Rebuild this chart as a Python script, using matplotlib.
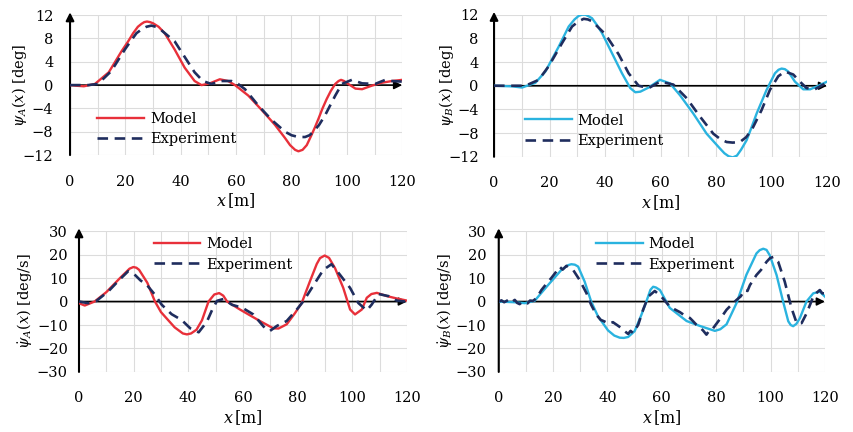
import matplotlib
matplotlib.use('Agg')
import matplotlib.pyplot as plt
from matplotlib.ticker import MultipleLocator

plt.rcParams['font.family'] = 'DejaVu Serif'
plt.rcParams['mathtext.fontset'] = 'dejavuserif'
plt.rcParams['font.size'] = 10.5

# --- psi_A (top left)
xa_mod = [0, 2, 5, 9, 14, 18.6, 21, 22.8, 24.5, 25.8, 26.8, 27.8, 28.9, 30, 32, 34.2, 37.8, 41.4,
          45, 47.5, 50.5, 54.1, 57.1, 59.6, 64.4, 69.3, 74, 77.7, 79.5, 81.3, 82.5, 84, 85.5, 87,
          88.5, 89.8, 91.2, 92.7, 94.2, 95.8, 97, 97.9, 99, 100.5, 103.1, 105.5, 109, 112.6, 116.3, 120]
ya_mod = [0, -0.1, -0.2, 0.2, 2.2, 5.8, 7.5, 8.9, 10.0, 10.5, 10.8, 10.9, 10.8, 10.6, 10.0, 8.9, 6.1,
          3.0, 0.7, 0, 0.3, 1.0, 0.7, 0, -1.8, -4.3, -6.8, -9.1, -10.3, -11.1, -11.35, -11.1, -10.3,
          -8.8, -7.2, -5.7, -4.0, -2.4, -1.0, 0.2, 0.7, 0.9, 0.7, 0.2, -0.6, -0.7, -0.1, 0.4, 0.7, 0.9]
xa_exp = [0, 6.5, 10.1, 14.9, 19.8, 22, 24, 26, 27.6, 29.4, 31, 33, 37.8, 42, 45, 48, 51, 54.7,
          58.3, 60.7, 63.2, 68, 72.9, 77.7, 80, 82.5, 84.9, 86.5, 87.9, 90, 92.1, 95.8, 98.2, 101.8,
          105.5, 110.2, 113.9, 116.3, 120]
ya_exp = [0, 0, 0.2, 2.4, 6.1, 7.6, 8.9, 9.6, 10.0, 10.2, 10.0, 9.4, 7.5, 4.4, 2.2, 0.7, 0.2, 0.7,
          0.7, 0.2, -0.7, -3.5, -6.0, -8.0, -8.6, -8.9, -8.9, -8.6, -8.0, -6.8, -5.2, -1.8, 0.2, 0.9,
          0.3, 0.2, 0.9, 0.7, 0.6]

# --- psi_B (top right)
xb_mod = [0, 6.5, 10.1, 14.9, 18.5, 23.3, 26.9, 29, 30.5, 31.7, 32.9, 34.2, 35.3, 37, 38.9, 42.5,
          46.1, 49.1, 50.9, 52.7, 55.7, 59.8, 63.4, 67, 71.8, 76.6, 81.4, 83, 84.5, 86, 87.5, 89,
          91, 92.8, 94.6, 98.2, 101.2, 102.5, 103.6, 104.8, 106, 108.4, 111.4, 113.9, 116.9, 120]
yb_mod = [0, -0.1, -0.3, 0.5, 2.4, 6.6, 10.0, 11.2, 11.8, 12.0, 12.0, 11.7, 11.4, 10.3, 8.9, 5.5,
          2.1, -0.4, -1.1, -1.0, -0.3, 1.0, 0.4, -1.6, -4.7, -8.1, -10.6, -11.4, -11.9, -12.1, -11.8,
          -10.8, -9.2, -7.0, -4.7, -0.7, 2.1, 2.7, 2.9, 2.8, 2.4, 0.7, -0.6, -0.6, 0, 0.7]
xb_exp = [0, 11.3, 16.1, 19.7, 24.5, 28.1, 30.5, 32.3, 33.8, 35.3, 40.1, 44.9, 48.5, 52.1, 55.7,
          59.8, 64.6, 69.4, 74.2, 79, 81.5, 83.8, 86, 88.6, 90.8, 92.8, 96.4, 99.4, 102.4, 104.8,
          107.8, 110.2, 112.6, 115.6, 118.6, 120]
yb_exp = [0, 0, 1.0, 3.3, 7.2, 10.0, 10.9, 11.3, 11.2, 10.9, 8.7, 5.3, 2.1, 0, -0.4,
          0.7, 0.2, -2.1, -5.2, -8.1, -9.0, -9.5, -9.6, -9.5, -8.7, -7.5, -4.1, -0.7, 1.6, 2.4,
          1.9, 0.7, -0.4, -0.6, 0.2, 0.6]

# --- psi_A dot (bottom left)
xad_mod = [0, 2.1, 5.7, 10, 15, 18.5, 19.9, 21, 22, 25, 27.8, 30, 35, 38, 39.5, 41, 43, 45, 47.4,
           49.5, 51.3, 52.8, 54.2, 58.9, 62, 66.2, 71.1, 73, 76, 79, 81.5, 84.5, 87, 88.2, 89.9,
           91.5, 93.7, 96.7, 99.2, 101, 103.5, 105.3, 107, 109, 112.7, 116.3, 120]
yad_mod = [-0.7, -1.7, 0, 4, 10, 14, 14.7, 14.4, 13.5, 8, 0, -4.5, -11, -13.6, -14, -13.6, -12, -8, 0,
           3, 3.6, 2.5, 0, -3.4, -5.5, -8.3, -11.4, -11.5, -9.7, -5, -0.6, 8.6, 16, 18.5, 19.6,
           18.6, 14.2, 5.8, -3.4, -5.5, -3.4, 1.6, 3.2, 3.7, 2.3, 1.3, 0.4]
xad_exp = [0, 3.3, 6.4, 10.7, 15, 18, 19.9, 22.5, 24.8, 27.8, 30.3, 33.9, 37.6, 40.7, 43.8, 46.8,
           48.7, 50.5, 52.9, 56, 59.7, 63.8, 68.1, 69.9, 72.4, 76, 79.7, 82.1, 85.2, 89.4, 92.4,
           95.5, 99.2, 102.2, 105.3, 107.1, 109.6, 113.3, 116.3, 120]
yad_exp = [0, -0.7, 0.3, 4.3, 9.5, 12.9, 12, 9, 7.1, 2.9, -1.4, -5.4, -7.9, -11.4, -13.1, -8.6,
           -3.6, 0.3, 1.1, -1.4, -2.6, -5.5, -11.4, -12.5, -10.4, -8.3, -3.4, 0.1, 5.8, 13.5, 15.9,
           11.4, 5.8, -0.6, -3.8, -1.3, 3.2, 2.3, 0.4, -0.1]

# --- psi_B dot (bottom right)
xbd_mod = [0, 5.9, 9.6, 13.2, 18.2, 23, 25.5, 26.7, 28, 29.2, 31.6, 34, 36.5, 40.2, 42.5, 44.5,
           46, 47.6, 50, 52.5, 54.3, 55.8, 56.8, 57.8, 59.3, 62.9, 69.1, 74, 79.5, 81.5, 83.8, 87.5,
           91.1, 94.8, 96, 97.3, 98.5, 99.7, 102.2, 104.6, 106.5, 107.4, 108.3, 109.5, 110.8,
           113.2, 115.7, 118.1, 120]
ybd_mod = [0, -0.3, -0.7, 0.3, 7.1, 13.4, 15.5, 15.9, 15.7, 14.9, 8.5, 0, -6.3, -12.3, -14.5, -15.4,
           -15.5, -15.1, -12.6, -5.6, 0, 5, 6.3, 6.0, 4.9, -2.7, -8.3, -10.4, -12.5, -11.8, -9.7, -0.6,
           11.4, 20.5, 21.9, 22.5, 22.0, 19.7, 11.3, 0, -8.4, -10, -10.5, -9.5, -7, 0, 3.5, 4.2, 2.1]
xbd_exp = [0, 1, 2, 3.4, 4.5, 5.9, 6.8, 7.7, 8.6, 9.6, 10.6, 11.5, 12.6, 13.9, 15.7, 17.5, 19.4,
           21, 22.4, 23.5, 24.9, 26, 27.4, 29.8, 32.3, 34, 35.9, 37.5, 38.9, 40.5, 42, 43.5, 45.1,
           46.5, 47.6, 48.5, 49.4, 51.3, 53.1, 55, 57.4, 59.8, 62.9, 64.5, 66.6, 68.5, 70.3, 71.5,
           72.7, 74, 75.2, 76.4, 77.3, 78.2, 80.7, 82, 83.8, 85.5, 87.5, 89, 90.5, 91.5, 92.4, 94.8,
           96.5, 98.5, 99.8, 101, 102.8, 105.2, 107.7, 109.6, 111.4, 113.3, 115.7, 117, 118.1, 119,
           120]
ybd_exp = [0, 0.5, -0.3, 0.6, -0.5, 0.7, -0.6, -1.1, -0.2, -0.3, -0.8, 0.4, 0.3, 1.4, 4.9, 7.5, 10.1,
           12.5, 14.8, 13.6, 15.2, 14.2, 13.4, 9.1, 3.5, -1.4, -5.6, -7.8, -8.5, -9.5, -8.8, -10, -11.3,
           -12.8, -13.8, -12.5, -13.4, -9.9, -3.5, 2.1, 4.5, 2.1, -2.1, -3.2, -4.5, -6, -7, -8.4,
           -9.9, -11, -12.4, -14.1, -12.6, -12.4, -8.5, -6.5, -3.5, -1.5, 0.7, 2.2, 4.9, 4.5, 7, 11.3,
           13.5, 16.9, 18.5, 19, 16.9, 8.5, -2.8, -9.2, -9.2, -4.9, 2.1, 3.8, 4.9, 3.5, 3.5]

red = '#e8303a'
cyan = '#2ab3df'
navy = '#1f2d5e'

panels = [
    dict(rect=[0.082, 0.641, 0.389, 0.324], x_m=xa_mod, y_m=ya_mod, x_e=xa_exp, y_e=ya_exp,
         col=red, ylim=(-12, 12), ystep=4, ylabel=r'$\psi_A(x)$ [deg]',
         leg=dict(loc='lower left', bbox_to_anchor=(0.065, 0.02)), ypad=12, ylx=-0.125),
    dict(rect=[0.5785, 0.637, 0.390, 0.329], x_m=xb_mod, y_m=yb_mod, x_e=xb_exp, y_e=yb_exp,
         col=cyan, ylim=(-12, 12), ystep=4, ylabel=r'$\psi_B(x)$ [deg]',
         leg=dict(loc='lower left', bbox_to_anchor=(0.075, 0.02)), ypad=11, ylx=-0.115),
    dict(rect=[0.0925, 0.139, 0.384, 0.326], x_m=xad_mod, y_m=yad_mod, x_e=xad_exp, y_e=yad_exp,
         col=red, ylim=(-30, 30), ystep=10, ylabel=r'$\dot{\psi}_A(x)$ [deg/s]',
         leg=dict(loc='upper left', bbox_to_anchor=(0.21, 1.0)), ypad=8, ylx=-0.137),
    dict(rect=[0.584, 0.139, 0.382, 0.326], x_m=xbd_mod, y_m=ybd_mod, x_e=xbd_exp, y_e=ybd_exp,
         col=cyan, ylim=(-30, 30), ystep=10, ylabel=r'$\dot{\psi}_B(x)$ [deg/s]',
         leg=dict(loc='upper left', bbox_to_anchor=(0.28, 1.0)), ypad=9, ylx=-0.138),
]

fig = plt.figure(figsize=(8.54, 4.32), dpi=100)

for p in panels:
    ax = fig.add_axes(p['rect'])
    ax.plot(p['x_m'], p['y_m'], color=p['col'], lw=1.7, label='Model', zorder=3,
            solid_joinstyle='round')
    ax.plot(p['x_e'], p['y_e'], color=navy, lw=1.9, ls=(0, (4, 2.5)), label='Experiment', zorder=4)
    ax.set_xlim(0, 120)
    ax.set_ylim(*p['ylim'])
    ax.xaxis.set_major_locator(MultipleLocator(20))
    ax.xaxis.set_minor_locator(MultipleLocator(10))
    ax.yaxis.set_major_locator(MultipleLocator(p['ystep']))
    ax.grid(True, which='both', color='#dcdcdc', lw=0.8)
    ax.set_axisbelow(True)
    for s in ax.spines.values():
        s.set_visible(False)
    ax.tick_params(which='both', length=0)
    ax.tick_params(axis='x', pad=14)
    ax.tick_params(axis='y', pad=p['ypad'])
    ax.set_xlabel(r'$x\,$[m]', labelpad=2, fontsize=11.5)
    ax.set_ylabel(p['ylabel'])
    ax.yaxis.set_label_coords(p['ylx'], 0.5)
    # axes with arrowheads
    ymin, ymax = p['ylim']
    ax.annotate('', xy=(120, 0), xytext=(0, 0), annotation_clip=False,
                arrowprops=dict(arrowstyle='-|>', color='black', lw=1.2, mutation_scale=12,
                                shrinkA=0, shrinkB=0), zorder=2)
    ax.annotate('', xy=(0, ymax + 0.02 * (ymax - ymin)), xytext=(0, ymin), annotation_clip=False,
                arrowprops=dict(arrowstyle='-|>', color='black', lw=1.5, mutation_scale=12,
                                shrinkA=0, shrinkB=0), zorder=2)
    ax.legend(frameon=False, handlelength=3.2, handletextpad=0.4, labelspacing=0.45,
              borderaxespad=0, **p['leg'])

fig.savefig('out.png', dpi=100)
